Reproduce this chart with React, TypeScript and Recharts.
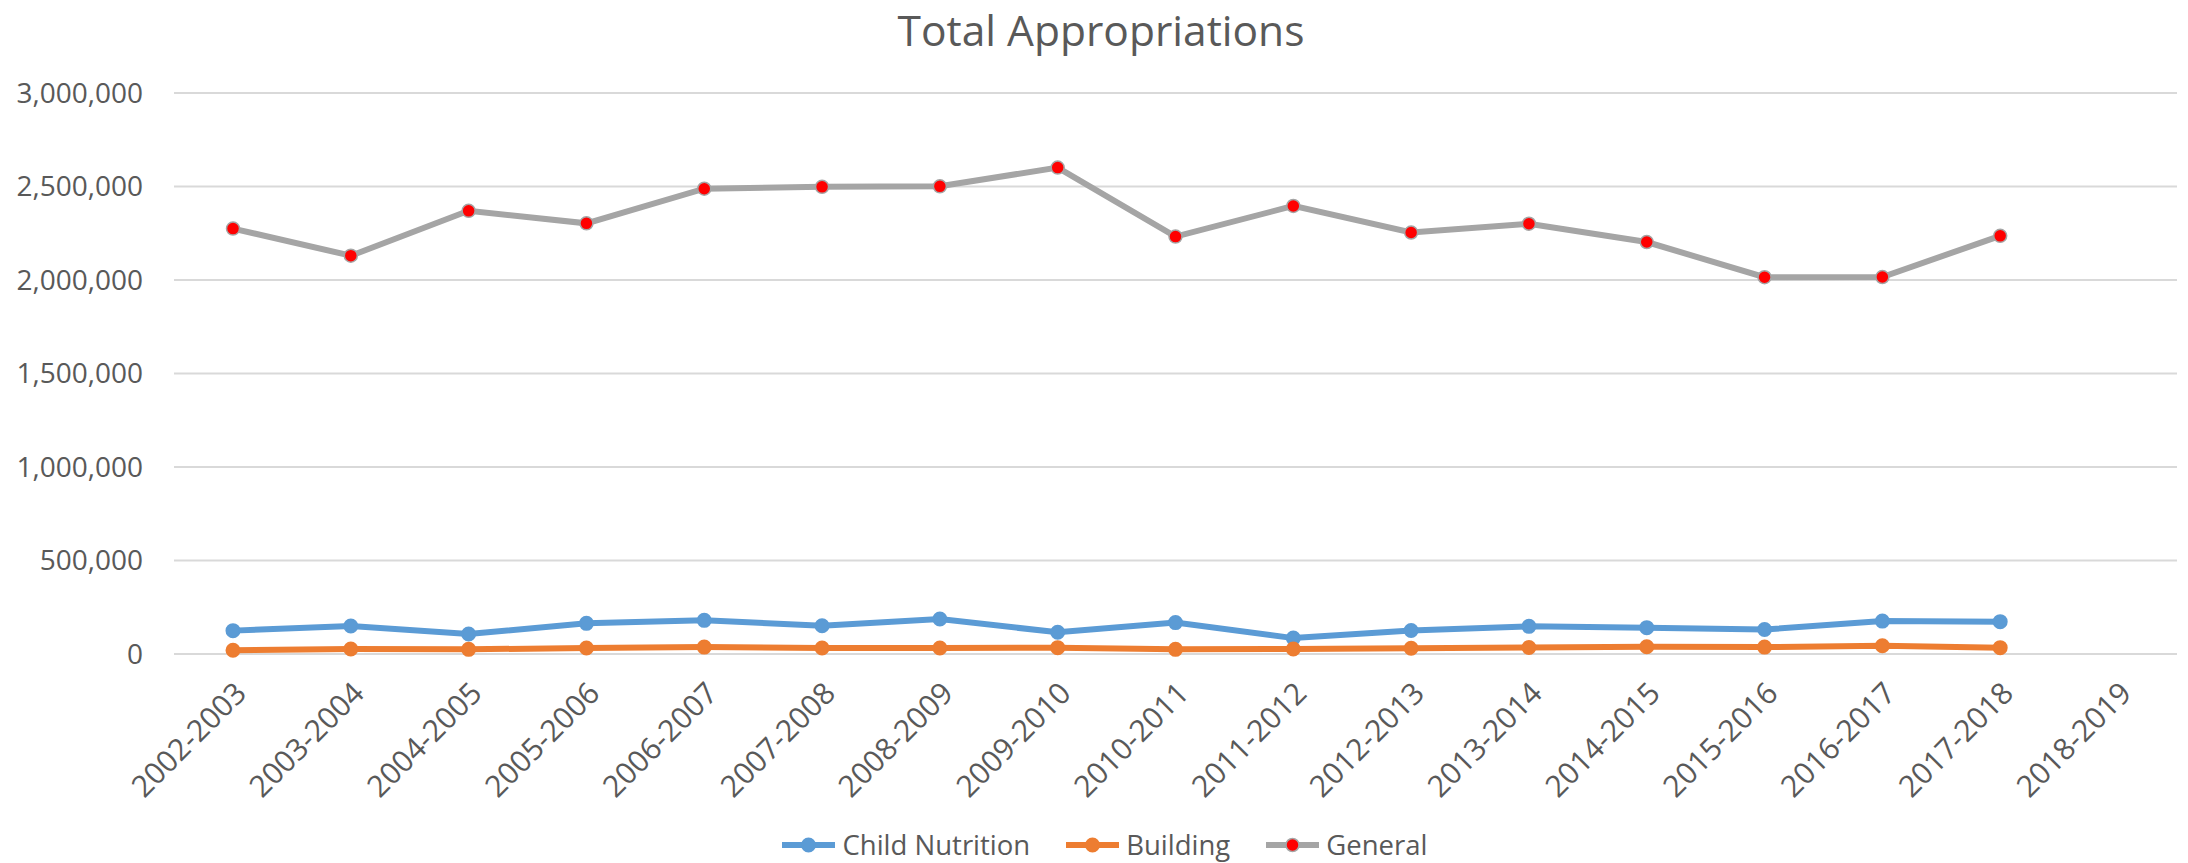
import React from 'react';
import { LineChart, Line, XAxis, YAxis, CartesianGrid, Legend } from 'recharts';

const categories = [
  '2002-2003', '2003-2004', '2004-2005', '2005-2006', '2006-2007', '2007-2008',
  '2008-2009', '2009-2010', '2010-2011', '2011-2012', '2012-2013', '2013-2014',
  '2014-2015', '2015-2016', '2016-2017', '2017-2018', '2018-2019',
];

const childNutrition = [125000, 150000, 107000, 164000, 180000, 151000, 187000, 116000, 168000, 85000, 126000, 148000, 141000, 131000, 176000, 173000, null];
const building = [20000, 27000, 25000, 32000, 37000, 32000, 32000, 34000, 25000, 27000, 31000, 35000, 39000, 37000, 44000, 34000, null];
const general = [2275000, 2130000, 2370000, 2303000, 2488000, 2498000, 2501000, 2601000, 2232000, 2396000, 2254000, 2301000, 2203000, 2015000, 2016000, 2236000, null];

const yTicks = [0, 500000, 1000000, 1500000, 2000000, 2500000, 3000000];

const seriesInfo = [
  { key: 'childNutrition', name: 'Child Nutrition', color: '#5B9BD5', fill: '#5B9BD5' },
  { key: 'building', name: 'Building', color: '#ED7D31', fill: '#ED7D31' },
  { key: 'general', name: 'General', color: '#A5A5A5', fill: '#FF0000' },
];

const data = categories.map((c, i) => ({
  category: c,
  childNutrition: childNutrition[i],
  building: building[i],
  general: general[i],
}));

const FONT = '"Open Sans", sans-serif';
const TEXT = '#595959';

const LegendContent = () => (
  <div
    style={{
      display: 'flex',
      justifyContent: 'center',
      alignItems: 'center',
      height: 36,
      lineHeight: '36px',
      paddingLeft: 33,
      fontFamily: FONT,
      fontSize: 27.5,
      color: TEXT,
      whiteSpace: 'nowrap',
    }}
  >
    {seriesInfo.map((s, i) => (
      <div key={s.key} style={{ display: 'flex', alignItems: 'center', marginLeft: i === 0 ? 0 : 36 }}>
        <svg width={53} height={20} style={{ marginRight: 7, display: 'block' }}>
          <line x1={1} y1={10} x2={52} y2={10} stroke={s.color} strokeWidth={6} strokeLinecap="round" />
          {s.key === 'general' ? (
            <circle cx={26.5} cy={10} r={6.5} fill={s.fill} stroke={s.color} strokeWidth={1.5} />
          ) : (
            <circle cx={26.5} cy={10} r={6.5} fill={s.fill} stroke={s.color} strokeWidth={2} />
          )}
        </svg>
        <span>{s.name}</span>
      </div>
    ))}
  </div>
);

export default function App() {
  return (
    <div style={{ position: 'absolute', left: 0, top: 0, width: 2188, height: 863, background: '#fff' }}>
      <LineChart
        width={2188}
        height={863}
        data={data}
        margin={{ top: 93, right: 11, left: 0, bottom: 0 }}
      >
        <CartesianGrid vertical={false} stroke="#D9D9D9" strokeWidth={2} />
        <XAxis
          dataKey="category"
          interval={0}
          height={173}
          padding={{ left: 59, right: 59 }}
          axisLine={false}
          tickLine={false}
          tickSize={0}
          tickMargin={26}
          angle={-45}
          textAnchor="end"
          tick={{ fill: TEXT, fontSize: 30, fontFamily: FONT }}
        />
        <YAxis
          width={174}
          domain={[0, 3000000]}
          ticks={yTicks}
          axisLine={false}
          tickLine={false}
          tickSize={0}
          tickMargin={31}
          tickFormatter={(v: number) => v.toLocaleString('en-US')}
          tick={{ fill: TEXT, fontSize: 28, fontFamily: FONT }}
        />
        <Legend
          verticalAlign="bottom"
          height={36}
          content={<LegendContent />}
          wrapperStyle={{ height: 36 }}
        />
        <Line
          type="linear"
          dataKey="childNutrition"
          name="Child Nutrition"
          stroke="#5B9BD5"
          strokeWidth={6}
          dot={{ r: 6.5, fill: '#5B9BD5', stroke: '#5B9BD5', strokeWidth: 2 }}
          activeDot={false}
          isAnimationActive={false}
        />
        <Line
          type="linear"
          dataKey="building"
          name="Building"
          stroke="#ED7D31"
          strokeWidth={6}
          dot={{ r: 6.5, fill: '#ED7D31', stroke: '#ED7D31', strokeWidth: 2 }}
          activeDot={false}
          isAnimationActive={false}
        />
        <Line
          type="linear"
          dataKey="general"
          name="General"
          stroke="#A5A5A5"
          strokeWidth={6}
          dot={{ r: 6.5, fill: '#FF0000', stroke: '#A5A5A5', strokeWidth: 1.5 }}
          activeDot={false}
          isAnimationActive={false}
        />
      </LineChart>
      <svg
        width={2188}
        height={863}
        style={{ position: 'absolute', left: 0, top: 0, pointerEvents: 'none' }}
      >
        <text x={1101} y={46} textAnchor="middle" fill={TEXT} fontSize={42.5} fontFamily={FONT}>
          Total Appropriations
        </text>
      </svg>
    </div>
  );
}
